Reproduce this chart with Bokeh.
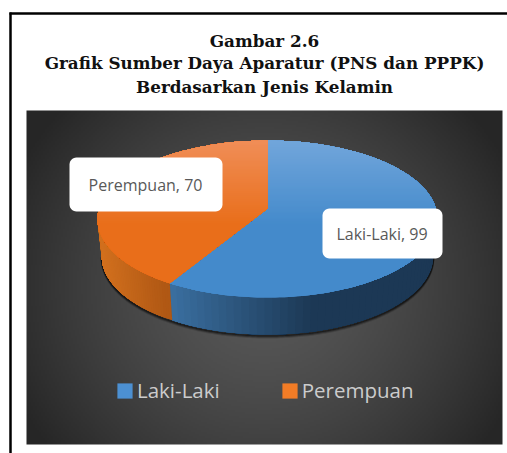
import numpy as np
from bokeh.embed import file_html
from bokeh.resources import INLINE
from bokeh.plotting import figure
from bokeh.models import Range1d, Legend, LegendItem
from bokeh.core.properties import value

categories = ["Laki-Laki", "Perempuan"]
values = [99, 70]
label_texts = ["Laki-Laki, 99", "Perempuan, 70"]
title_lines = ["Gambar 2.6",
               "Grafik Sumber Daya Aparatur (PNS dan PPPK)",
               "Berdasarkan Jenis Kelamin"]

W, H = 507, 453
p = figure(width=W, height=H, output_backend="svg", toolbar_location=None,
           x_range=Range1d(0, W), y_range=Range1d(0, H),
           min_border=0, outline_line_color=None, background_fill_color="white",
           border_fill_color="white")
p.xaxis.visible = False
p.yaxis.visible = False
p.xgrid.visible = False
p.ygrid.visible = False


def Y(y):
    """Layout is measured from the top of the picture; the y range runs upwards."""
    return H - np.asarray(y, dtype=float)


# frame
p.line([10, 10], Y([12, H]), line_color="black", line_width=2.5)
p.line([9, W], Y([13, 13]), line_color="black", line_width=2.5)

# title
for txt, yy in zip(title_lines, [40, 62, 86]):
    p.text([264], [Y(yy)], text=[txt], text_align="center", text_baseline="middle",
           text_font=value("DejaVu Serif"), text_font_style="bold",
           text_font_size="16.8px", text_color="#111111")

# panel background
PX0, PX1, PY0, PY1 = 26, 502, 110, 444
nx, ny = 238, 167
gx, gy = np.meshgrid(np.linspace(PX0, PX1, nx), np.linspace(PY0, PY1, ny))
rr = np.sqrt(((gx - 264) / 270) ** 2 + ((gy - 285) / 260) ** 2)
lum = np.clip(0x58 - (0x58 - 0x28) * rr ** 1.5, 0x26, 0x58).astype(np.uint32)
img = (255 << 24) | (lum << 16) | (lum << 8) | lum
p.image_rgba(image=[img[::-1]], x=PX0, y=Y(PY1), dw=PX1 - PX0, dh=PY1 - PY0)

# pie projection
CX, CY, RX, RY, PERSP, DEPTH, BOTTOM_SCALE = 267, 208, 168.5, 77.1, 0.134, 37, 0.975


def project(a, drop=0.0, scale=1.0):
    u, v = np.sin(a), np.cos(a)
    s = 1 / (1 + PERSP * v)
    return CX + RX * u * s * scale, CY - RY * v * s + drop


def clip_y(xs, ys, ymax):
    ox, oy = [], []
    n = len(xs)
    for i in range(n):
        x0, y0, x1, y1 = xs[i], ys[i], xs[(i + 1) % n], ys[(i + 1) % n]
        in0, in1 = y0 <= ymax, y1 <= ymax
        if in0:
            ox.append(x0)
            oy.append(y0)
        if in0 != in1:
            t = (ymax - y0) / (y1 - y0)
            ox.append(x0 + t * (x1 - x0))
            oy.append(ymax)
    return ox, oy


def mix(c0, c1, t):
    t = min(max(t, 0.0), 1.0)
    c = [round(a + (b - a) * t) for a, b in zip(c0, c1)]
    return "#%02x%02x%02x" % tuple(c)


total = sum(values)
a_split = 2 * np.pi * values[0] / total
spans = [(0.0, a_split), (a_split, 2 * np.pi)]
top_cols = [((0x72, 0xa6, 0xdb), (0x44, 0x8a, 0xcb)), ((0xf0, 0x8e, 0x58), (0xe9, 0x6e, 0x1a))]
side_cols = [((0x3c, 0x72, 0xa4), (0x1c, 0x38, 0x55)), ((0xd2, 0x70, 0x1e), (0xb0, 0x58, 0x14))]
side_ranges = [(165, 315), (100, 165)]
legend_cols = ["#4c90d2", "#f27c26"]

# shadow below the side wall
a_r = np.pi / 2 + np.arcsin(PERSP)
a_l = 3 * np.pi / 2 - np.arcsin(PERSP)
aa = np.linspace(a_r, a_l, 200)
sx, sy = project(aa, DEPTH, BOTTOM_SCALE)
for off, alpha in [(3, 0.15), (2, 0.3), (1, 0.5)]:
    p.line(sx, Y(sy + off), line_color="black", line_width=2, line_alpha=alpha)

# side wall: only the part facing the viewer
for (a0, a1), (c0, c1), (sx0, sx1) in zip(spans, side_cols, side_ranges):
    lo, hi = max(a0, a_r), min(a1, a_l)
    edges = np.linspace(lo, hi, 50)
    # each strip runs on to the wedge's end, so that no seams show between strips
    for i in range(len(edges) - 1):
        e = np.linspace(edges[i], hi, 40)
        tx, ty = project(e)
        bx, by = project(e[::-1], DEPTH, BOTTOM_SCALE)
        t = (tx[0] - sx0) / (sx1 - sx0)
        p.patch(np.r_[tx, bx], Y(np.r_[ty, by]), fill_color=mix(c0, c1, t), line_color=None)

# top surface: painter's bands, one vertical gradient per wedge
legend_renderers = []
YT, YB = 140, 297
for (a0, a1), (c0, c1), lc in zip(spans, top_cols, legend_cols):
    e = np.linspace(a0, a1, 160)
    wx, wy = project(e)
    wx = np.r_[CX, wx]
    wy = np.r_[CY, wy]
    legend_renderers.append(p.patch(wx, Y(wy), fill_color=lc, line_color=None))
    for yl in np.arange(YB, YT - 2, -2.0):
        cx_, cy_ = clip_y(list(wx), list(wy), float(yl))
        if len(cx_) < 3:
            continue
        p.patch(cx_, Y(cy_), fill_color=mix(c0, c1, (yl - YT) / 85), line_color=None)


def rounded(x0, y0, x1, y1, r):
    xs, ys = [], []
    for cx_, cy_, st in [(x1 - r, y0 + r, -np.pi / 2), (x1 - r, y1 - r, 0),
                         (x0 + r, y1 - r, np.pi / 2), (x0 + r, y0 + r, np.pi)]:
        th = np.linspace(st, st + np.pi / 2, 8)
        xs += list(cx_ + r * np.cos(th))
        ys += list(cy_ + r * np.sin(th))
    return xs, ys


# data labels
boxes = [(322, 208, 442, 258), (69, 157, 222, 211)]
for txt, (x0, y0, x1, y1) in zip(label_texts, boxes):
    bx, by = rounded(x0, y0, x1, y1, 7)
    p.patch(bx, Y(by), fill_color="white", line_color=None)
    p.text([(x0 + x1) / 2 - 0.5], [Y((y0 + y1) / 2 + 0.5)], text=[txt], text_align="center",
           text_baseline="middle", text_font=value("Open Sans"), text_font_size="16px",
           text_color="#595959")

# legend
legend = Legend(items=[LegendItem(label=c, renderers=[r]) for c, r in zip(categories, legend_renderers)],
                orientation="horizontal", location=(115, 49), background_fill_alpha=0,
                border_line_color=None, label_text_color="#cccccc",
                label_text_font="Open Sans", label_text_font_size="20.5px",
                glyph_width=19, glyph_height=19, label_standoff=3, spacing=60,
                padding=0, margin=0)
p.add_layout(legend, "center")

open("out.html", "w").write(file_html(p, INLINE))
